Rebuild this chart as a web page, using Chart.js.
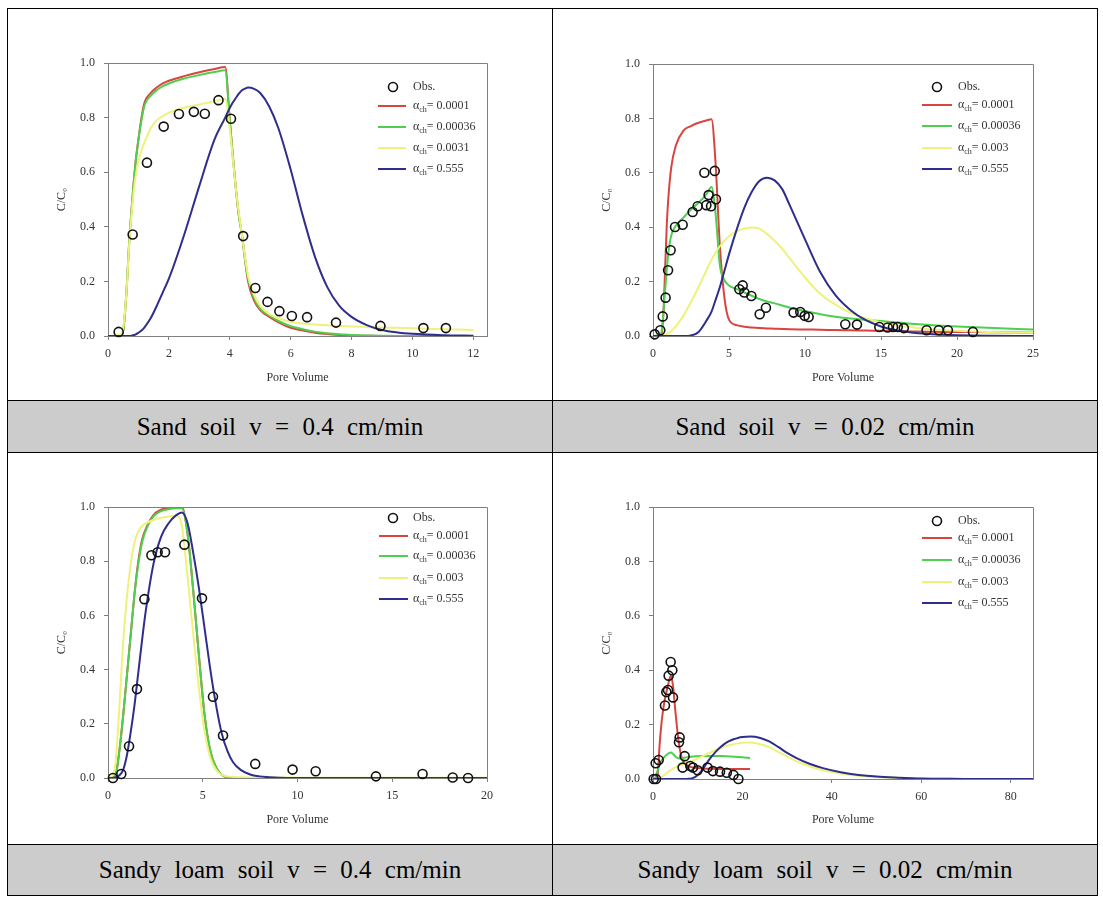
<!DOCTYPE html>
<html>
<head>
<meta charset="utf-8">
<script src="https://cdn.jsdelivr.net/npm/chart.js@4.4.0/dist/chart.umd.min.js"></script>
<style>
  body { margin: 0; background: #fff; }
  #sheet { position: relative; width: 1103px; height: 899px; }
  .hl { position: absolute; left: 7px; width: 1091px; height: 1px; background: #000; }
  .vl { position: absolute; top: 8px; width: 1px; height: 888px; background: #000; }
  .cap { position: absolute; width: 544px; background: #cccccc; display: flex; align-items: center;
         justify-content: center; font: 25px "Liberation Serif", serif; word-spacing: 7px; color: #000; }
  canvas { position: absolute; }
</style>
</head>
<body>
<div id="sheet">
  <canvas id="c1" width="543" height="390" style="left:8px;top:9px"></canvas>
  <canvas id="c2" width="543" height="390" style="left:553px;top:9px"></canvas>
  <canvas id="c3" width="543" height="390" style="left:8px;top:453px"></canvas>
  <canvas id="c4" width="543" height="390" style="left:553px;top:453px"></canvas>

  <div class="cap" style="left:8px;top:401px;height:51px">Sand soil v = 0.4 cm/min</div>
  <div class="cap" style="left:553px;top:401px;height:51px">Sand soil v = 0.02 cm/min</div>
  <div class="cap" style="left:8px;top:845px;height:50px">Sandy loam soil v = 0.4 cm/min</div>
  <div class="cap" style="left:553px;top:845px;height:50px">Sandy loam soil v = 0.02 cm/min</div>

  <div class="hl" style="top:8px"></div>
  <div class="hl" style="top:400px"></div>
  <div class="hl" style="top:452px"></div>
  <div class="hl" style="top:844px"></div>
  <div class="hl" style="top:895px"></div>
  <div class="vl" style="left:7px"></div>
  <div class="vl" style="left:552px"></div>
  <div class="vl" style="left:1097px"></div>
</div>
<script>
// ---- Sand soil, v = 0.4 cm/min ----
const sandFastX = [0, 0.4, 0.5, 0.6, 0.7, 0.8, 0.9, 1.0, 1.1, 1.2, 1.4, 1.6, 1.8, 2.0, 2.5, 3.0, 3.5, 3.85, 4.0, 4.1, 4.2, 4.3, 4.4, 4.5, 4.6, 4.8, 5.0, 5.3, 5.6, 6.0, 6.4, 6.8, 7.2, 7.6, 8.0, 8.5, 9.0, 9.5, 10, 11, 12];
const sandFastRed = [0, 0, 0.02, 0.15, 0.35, 0.5, 0.63, 0.72, 0.8, 0.855, 0.89, 0.91, 0.925, 0.935, 0.952, 0.966, 0.978, 0.985, 0.79, 0.66, 0.54, 0.44, 0.37, 0.28, 0.2, 0.13, 0.095, 0.07, 0.05, 0.03, 0.02, 0.012, 0.007, 0.004, 0.002, 0.001, 0, 0, 0, 0, 0];
const sandFastGreen = [0, 0, 0.02, 0.15, 0.35, 0.5, 0.63, 0.72, 0.79, 0.845, 0.88, 0.9, 0.915, 0.925, 0.943, 0.956, 0.967, 0.973, 0.79, 0.66, 0.54, 0.44, 0.37, 0.285, 0.21, 0.14, 0.1, 0.075, 0.055, 0.036, 0.025, 0.016, 0.01, 0.006, 0.004, 0.002, 0.001, 0, 0, 0, 0];
const sandFastYellow = [0, 0.005, 0.03, 0.15, 0.34, 0.48, 0.58, 0.64, 0.68, 0.71, 0.76, 0.79, 0.805, 0.818, 0.836, 0.848, 0.86, 0.868, 0.76, 0.65, 0.54, 0.45, 0.37, 0.29, 0.22, 0.15, 0.11, 0.08, 0.065, 0.052, 0.046, 0.042, 0.039, 0.037, 0.035, 0.033, 0.031, 0.03, 0.028, 0.025, 0.022];
const sandFastBlue = [0, 0, 0, 0, 0, 0.002, 0.005, 0.012, 0.02, 0.032, 0.065, 0.11, 0.16, 0.21, 0.37, 0.55, 0.72, 0.8, 0.835, 0.855, 0.872, 0.888, 0.9, 0.906, 0.91, 0.905, 0.89, 0.84, 0.76, 0.61, 0.44, 0.29, 0.18, 0.11, 0.07, 0.04, 0.022, 0.013, 0.008, 0.003, 0.001];
const sandFastObsX = [0.35, 0.81, 1.28, 1.83, 2.33, 2.82, 3.18, 3.63, 4.04, 4.44, 4.84, 5.24, 5.63, 6.04, 6.54, 7.49, 8.95, 10.36, 11.1];
const sandFastObsY = [0.015, 0.372, 0.635, 0.767, 0.813, 0.821, 0.814, 0.864, 0.796, 0.366, 0.176, 0.125, 0.091, 0.073, 0.069, 0.049, 0.037, 0.029, 0.029];
const sandFastAlphas = ['0.0001', '0.00036', '0.0031', '0.555'];

// ---- Sand soil, v = 0.02 cm/min ----
const sandSlowX = [0, 0.5, 0.6, 0.7, 0.8, 0.9, 1.0, 1.2, 1.5, 2.0, 2.5, 3.0, 3.5, 3.85, 4.1, 4.4, 4.7, 5.0, 5.5, 6.0, 6.5, 7.0, 7.5, 8.0, 8.5, 9.0, 10, 11, 12, 13, 14, 15, 16, 17, 18, 19, 20, 22, 25];
const sandSlowRed = [0, 0, 0.02, 0.1, 0.25, 0.4, 0.5, 0.62, 0.7, 0.755, 0.772, 0.784, 0.792, 0.797, 0.65, 0.33, 0.14, 0.06, 0.04, 0.034, 0.031, 0.029, 0.028, 0.027, 0.026, 0.025, 0.024, 0.023, 0.022, 0.021, 0.02, 0.019, 0.018, 0.017, 0.016, 0.015, 0.015, 0.014, 0.012];
const sandSlowGreen = [0, 0.005, 0.03, 0.1, 0.17, 0.24, 0.3, 0.37, 0.405, 0.435, 0.465, 0.49, 0.52, 0.548, 0.46, 0.26, 0.205, 0.186, 0.172, 0.16, 0.148, 0.136, 0.127, 0.12, 0.112, 0.104, 0.092, 0.08, 0.071, 0.064, 0.059, 0.055, 0.05, 0.045, 0.041, 0.038, 0.035, 0.03, 0.024];
const sandSlowYellow = [0, 0, 0.001, 0.002, 0.004, 0.007, 0.01, 0.018, 0.035, 0.075, 0.125, 0.18, 0.24, 0.28, 0.305, 0.33, 0.35, 0.367, 0.385, 0.395, 0.399, 0.395, 0.375, 0.35, 0.32, 0.285, 0.215, 0.155, 0.115, 0.085, 0.065, 0.05, 0.04, 0.032, 0.026, 0.022, 0.019, 0.015, 0.012];
const sandSlowBlue = [0, 0, 0, 0, 0, 0, 0, 0, 0, 0, 0.002, 0.015, 0.055, 0.09, 0.13, 0.18, 0.24, 0.3, 0.39, 0.47, 0.53, 0.57, 0.582, 0.572, 0.54, 0.48, 0.355, 0.235, 0.15, 0.095, 0.058, 0.035, 0.021, 0.013, 0.008, 0.005, 0.003, 0.001, 0];
const sandSlowObsX = [0.11, 0.48, 0.64, 0.83, 0.99, 1.16, 1.45, 1.95, 2.61, 2.94, 3.38, 3.51, 3.66, 3.82, 4.06, 4.14, 5.68, 5.9, 6.01, 6.47, 7.02, 7.43, 9.25, 9.69, 9.98, 10.24, 12.65, 13.42, 14.89, 15.44, 15.79, 16.1, 16.5, 18.0, 18.8, 19.4, 21.05];
const sandSlowObsY = [0.006, 0.021, 0.072, 0.141, 0.242, 0.315, 0.401, 0.409, 0.456, 0.477, 0.6, 0.481, 0.518, 0.477, 0.607, 0.503, 0.172, 0.186, 0.16, 0.147, 0.08, 0.104, 0.086, 0.088, 0.074, 0.07, 0.043, 0.042, 0.033, 0.031, 0.033, 0.033, 0.029, 0.021, 0.021, 0.021, 0.015];
const sandSlowAlphas = ['0.0001', '0.00036', '0.003', '0.555'];

// ---- Sandy loam soil, v = 0.4 cm/min ----
const loamFastX = [0, 0.2, 0.4, 0.6, 0.8, 1.0, 1.2, 1.4, 1.6, 1.8, 2.0, 2.4, 2.8, 3.2, 3.6, 3.9, 4.2, 4.5, 4.8, 5.1, 5.4, 5.7, 6.0, 6.3, 6.6, 7.0, 7.5, 8.0, 8.5, 9, 10, 12, 14, 16, 18, 20];
const loamFastRed = [0, 0, 0.01, 0.1, 0.23, 0.38, 0.53, 0.68, 0.8, 0.88, 0.92, 0.97, 0.99, 0.997, 0.999, 0.999, 0.9, 0.69, 0.45, 0.23, 0.1, 0.04, 0.012, 0.003, 0.001, 0, 0, 0, 0, 0, 0, 0, 0, 0, 0, 0];
const loamFastGreen = [0, 0, 0.01, 0.1, 0.23, 0.38, 0.53, 0.68, 0.79, 0.87, 0.915, 0.965, 0.985, 0.992, 0.995, 0.995, 0.9, 0.69, 0.45, 0.23, 0.1, 0.04, 0.012, 0.003, 0.001, 0, 0, 0, 0, 0, 0, 0, 0, 0, 0, 0];
const loamFastYellow = [0, 0.005, 0.06, 0.26, 0.5, 0.67, 0.79, 0.87, 0.91, 0.93, 0.94, 0.952, 0.96, 0.965, 0.968, 0.93, 0.74, 0.53, 0.33, 0.17, 0.075, 0.03, 0.012, 0.006, 0.004, 0.003, 0.002, 0.002, 0.002, 0.002, 0.001, 0.001, 0.001, 0.001, 0.001, 0.001];
const loamFastBlue = [0, 0, 0.002, 0.01, 0.03, 0.085, 0.17, 0.27, 0.39, 0.51, 0.62, 0.79, 0.89, 0.94, 0.97, 0.98, 0.94, 0.83, 0.7, 0.55, 0.4, 0.27, 0.165, 0.1, 0.058, 0.03, 0.013, 0.006, 0.003, 0.001, 0, 0, 0, 0, 0, 0];
const loamFastObsX = [0.26, 0.7, 1.11, 1.53, 1.92, 2.29, 2.62, 3.01, 4.03, 4.96, 5.54, 6.07, 7.77, 9.74, 10.96, 14.14, 16.6, 18.19, 19.0];
const loamFastObsY = [0, 0.015, 0.117, 0.328, 0.66, 0.822, 0.833, 0.833, 0.861, 0.663, 0.3, 0.157, 0.052, 0.031, 0.025, 0.006, 0.015, 0.002, 0];
const loamFastAlphas = ['0.0001', '0.00036', '0.003', '0.555'];

// ---- Sandy loam soil, v = 0.02 cm/min ----
const loamSlowX = [0, 0.5, 1.0, 1.5, 2.0, 2.5, 3.0, 3.5, 4.0, 4.5, 5.0, 5.5, 6.0, 6.5, 7.0, 8, 9, 10, 11, 12, 13, 14, 15, 16, 17, 18, 19, 20, 21.7, 24, 26, 28, 30, 32, 35, 38, 42, 46, 50, 55, 60, 65, 70, 85];
const loamSlowRed = [0, 0, 0.01, 0.13, 0.22, 0.28, 0.32, 0.355, 0.38, 0.34, 0.25, 0.17, 0.11, 0.075, 0.06, 0.047, 0.042, 0.04, 0.039, 0.038, 0.038, 0.037, 0.037, 0.037, 0.037, 0.037, 0.037, 0.037, 0.037, null, null, null, null, null, null, null, null, null, null, null, null, null, null, null];
const loamSlowGreen = [0, 0.005, 0.03, 0.055, 0.07, 0.08, 0.088, 0.094, 0.097, 0.092, 0.083, 0.077, 0.075, 0.076, 0.078, 0.081, 0.083, 0.084, 0.085, 0.085, 0.085, 0.085, 0.085, 0.084, 0.083, 0.082, 0.081, 0.08, 0.077, null, null, null, null, null, null, null, null, null, null, null, null, null, null, null];
const loamSlowYellow = [0, 0, 0, 0.003, 0.008, 0.014, 0.02, 0.027, 0.033, 0.038, 0.043, 0.047, 0.05, 0.053, 0.056, 0.062, 0.068, 0.075, 0.083, 0.091, 0.099, 0.106, 0.113, 0.119, 0.124, 0.128, 0.131, 0.133, 0.134, 0.128, 0.117, 0.1, 0.082, 0.066, 0.047, 0.032, 0.02, 0.012, 0.007, 0.004, 0.002, 0.001, 0, 0];
const loamSlowBlue = [0, 0, 0, 0, 0, 0, 0, 0, 0, 0, 0, 0, 0, 0, 0, 0.001, 0.004, 0.015, 0.033, 0.058, 0.08, 0.1, 0.116, 0.129, 0.139, 0.146, 0.151, 0.154, 0.156, 0.151, 0.138, 0.118, 0.096, 0.078, 0.056, 0.04, 0.025, 0.015, 0.009, 0.005, 0.002, 0.001, 0, 0];
const loamSlowObsX = [0.15, 0.67, 0.6, 1.27, 2.68, 2.98, 3.35, 3.5, 3.95, 4.32, 4.47, 5.81, 5.96, 6.63, 7.08, 8.34, 8.94, 9.98, 12.2, 13.4, 15.0, 16.5, 18.0, 19.1];
const loamSlowObsY = [0, 0, 0.058, 0.07, 0.27, 0.32, 0.327, 0.38, 0.43, 0.4, 0.3, 0.135, 0.153, 0.042, 0.084, 0.048, 0.042, 0.032, 0.042, 0.029, 0.027, 0.023, 0.015, 0];
const loamSlowAlphas = ['0.0001', '0.00036', '0.003', '0.555'];

const yTicks = [0, 0.2, 0.4, 0.6, 0.8, 1.0];

const curveColors = ['#d8453f', '#4fcf4f', '#eef27a', '#2e2e8c'];
const axisColor = '#808080';
const serif = '"Liberation Serif", "Times New Roman", serif';

const pts = (xs, ys) => xs.map((x, i) => ({ x: x, y: ys[i] }));

// top/right frame of the plot box
const framePlugin = {
  id: 'frame',
  afterDraw(chart) {
    const { ctx, chartArea: a } = chart;
    ctx.save();
    ctx.strokeStyle = axisColor;
    ctx.lineWidth = 1;
    ctx.beginPath();
    ctx.moveTo(Math.round(a.left) + 0.5, Math.round(a.top) + 0.5);
    ctx.lineTo(Math.round(a.right) + 0.5, Math.round(a.top) + 0.5);
    ctx.lineTo(Math.round(a.right) + 0.5, Math.round(a.bottom) + 0.5);
    ctx.stroke();
    ctx.restore();
  }
};

// legend drawn inside the plot with alpha_ch subscripts
const legendPlugin = {
  id: 'soilLegend',
  afterDraw(chart, args, opts) {
    const { ctx, chartArea: a } = chart;
    const tx = a.right + opts.text;
    ctx.save();
    ctx.textBaseline = 'middle';
    ctx.textAlign = 'left';
    ctx.fillStyle = '#333';
    // Obs.
    ctx.beginPath();
    ctx.arc(a.right + opts.obs[0], a.top + opts.obs[1], 4.5, 0, Math.PI * 2);
    ctx.strokeStyle = '#111';
    ctx.lineWidth = 1.6;
    ctx.stroke();
    ctx.font = '12px ' + serif;
    ctx.fillText('Obs.', tx, a.top + opts.obs[1]);
    opts.labels.forEach((lab, i) => {
      const y = a.top + opts.rows[i];
      ctx.strokeStyle = curveColors[i];
      ctx.lineWidth = 2;
      ctx.beginPath();
      ctx.moveTo(a.right + opts.line[0], y);
      ctx.lineTo(a.right + opts.line[1], y);
      ctx.stroke();
      ctx.font = '12px ' + serif;
      ctx.fillText('\u03b1', tx, y);
      let w = ctx.measureText('\u03b1').width;
      ctx.font = '8px ' + serif;
      ctx.fillText('ch', tx + w, y + 4);
      w += ctx.measureText('ch').width;
      ctx.font = '12px ' + serif;
      ctx.fillText('= ' + lab, tx + w, y);
    });
    ctx.restore();
  }
};

function makeChart(id, p) {
  const curves = [p.red, p.green, p.yellow, p.blue].map((ys, i) => ({
    data: pts(p.x, ys),
    showLine: true,
    borderColor: curveColors[i],
    borderWidth: 2,
    pointRadius: 0,
    cubicInterpolationMode: 'monotone',
    spanGaps: false,
    order: 5 - i
  }));
  const obs = {
    data: pts(p.obsX, p.obsY),
    showLine: false,
    pointRadius: 4.5,
    pointBorderWidth: 1.6,
    pointBorderColor: '#111',
    pointBackgroundColor: 'rgba(0,0,0,0)',
    clip: false,
    order: 0
  };
  return new Chart(document.getElementById(id), {
    type: 'scatter',
    data: { datasets: [obs].concat(curves) },
    options: {
      responsive: false,
      animation: false,
      events: [],
      layout: { padding: p.pad },
      plugins: {
        legend: { display: false },
        tooltip: { enabled: false },
        soilLegend: p.legend
      },
      scales: {
        x: {
          type: 'linear', min: 0, max: p.xMax,
          ticks: { stepSize: p.xStep, includeBounds: false, padding: 7, color: '#333', maxRotation: 0,
                   font: { family: serif, size: 12 } },
          grid: { drawOnChartArea: false, drawTicks: true, tickLength: 4, color: axisColor },
          border: { display: true, color: axisColor },
          title: { display: true, text: 'Pore Volume', color: '#333', font: { family: serif, size: 12 },
                   padding: { top: 0, bottom: 0 } },
          afterFit: s => { s.height = p.xAxisH; }
        },
        y: {
          min: 0, max: 1,
          afterBuildTicks: s => { s.ticks = yTicks.map(v => ({ value: v })); },
          ticks: { padding: 9, color: '#333', font: { family: serif, size: 12 },
                   callback: v => Number(v).toFixed(1) },
          grid: { drawOnChartArea: false, drawTicks: true, tickLength: 4, color: axisColor },
          border: { display: true, color: axisColor },
          title: { display: true, text: 'C/C\u2080', color: '#333', font: { family: serif, size: 12 },
                   padding: { top: 3, bottom: 0 } },
          afterFit: s => { s.width = 56; }
        }
      }
    },
    plugins: [framePlugin, legendPlugin]
  });
}

makeChart('c1', {
  x: sandFastX, red: sandFastRed, green: sandFastGreen, yellow: sandFastYellow, blue: sandFastBlue,
  obsX: sandFastObsX, obsY: sandFastObsY, xMax: 12.45, xStep: 2, xAxisH: 49,
  pad: { left: 44, top: 54, right: 64, bottom: 14 },
  legend: { labels: sandFastAlphas, obs: [-94, 24], rows: [43, 64, 85, 106], line: [-109, -81], text: -74 }
});
makeChart('c2', {
  x: sandSlowX, red: sandSlowRed, green: sandSlowGreen, yellow: sandSlowYellow, blue: sandSlowBlue,
  obsX: sandSlowObsX, obsY: sandSlowObsY, xMax: 25, xStep: 5, xAxisH: 49,
  pad: { left: 44, top: 55, right: 63, bottom: 14 },
  legend: { labels: sandSlowAlphas, obs: [-96, 23], rows: [41, 62, 84, 105], line: [-111, -81], text: -75 }
});
makeChart('c3', {
  x: loamFastX, red: loamFastRed, green: loamFastGreen, yellow: loamFastYellow, blue: loamFastBlue,
  obsX: loamFastObsX, obsY: loamFastObsY, xMax: 20, xStep: 5, xAxisH: 49,
  pad: { left: 44, top: 54, right: 64, bottom: 16 },
  legend: { labels: loamFastAlphas, obs: [-94, 11], rows: [29, 49, 71, 92], line: [-108, -79], text: -74 }
});
makeChart('c4', {
  x: loamSlowX, red: loamSlowRed, green: loamSlowGreen, yellow: loamSlowYellow, blue: loamSlowBlue,
  obsX: loamSlowObsX, obsY: loamSlowObsY, xMax: 85, xStep: 20, xAxisH: 48,
  pad: { left: 44, top: 54, right: 63, bottom: 16 },
  legend: { labels: loamSlowAlphas, obs: [-96, 14], rows: [31, 53, 75, 96], line: [-111, -81], text: -75 }
});
</script>
</body>
</html>
